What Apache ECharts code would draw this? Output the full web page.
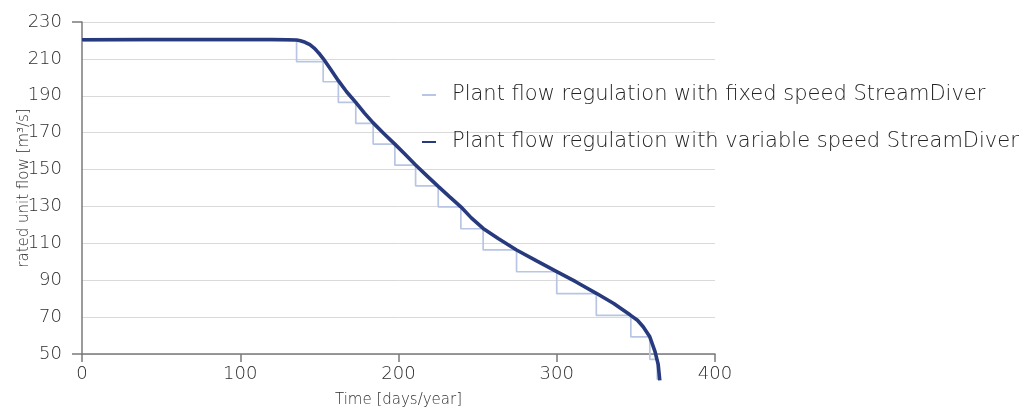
<!DOCTYPE html>
<html>
<head>
<meta charset="utf-8">
<title>rated unit flow</title>
<script src="https://cdn.jsdelivr.net/npm/echarts@6/dist/echarts.min.js"></script>
<style>
	html,body{margin:0;padding:0;background:#fff;}
	#chart{width:1030px;height:412px;}
</style>
</head>
<body>
<div id="chart"></div>
<script>
//series names
const nameFixed="Plant flow regulation with fixed speed StreamDiver";
const nameVariable="Plant flow regulation with variable speed StreamDiver";
//variable speed - smooth curve (day, m3/s)
const varDays=[0,40,80,120,130,135.6,138,141,144,146.5,148.2,150.3,152.4,157,162,167.2,173,178.5,184,191,197.7,204,210.8,218,225.1,232,239.4,246,253.5,263,274.6,287,300,312,325,336,346.5,351,354.6,358.8,362,364.1,365.1];
const varFlow=[220.4,220.5,220.5,220.5,220.4,220.2,219.8,219.0,217.7,216.0,214.5,212.5,210.2,204.5,198.2,192.2,186.4,180.6,175.3,169.3,163.8,158.4,152.5,146.6,140.9,135.5,129.8,123.8,118.1,112.6,106.4,100.6,94.7,89.2,82.9,77.4,71.1,68.3,64.8,59.3,51.6,44.4,35.7];
//fixed speed - staircase, each value holds until the next day
const fixedDays=[0,135.6,152.4,162,173,184,197.7,210.8,225.1,239.4,253.5,274.6,300,325,346.8,358.8,363.5];
const fixedFlow=[219.8,208.5,197.6,186.4,175,163.8,152.4,141.2,129.8,117.9,106.4,94.6,82.7,70.9,59.3,47.1,36];
//axis ticks [min, max, step]
const xTicks=[0,400,100];
const yTicks=[50,230,20];

const txtFont="DejaVu Sans";
const txtColor="#2e2e2e";
const axisColor="#7a7a7a";

function pairs(xs,ys){
	let out=[];
	for(let i=0;i<xs.length;i++){out.push([xs[i],ys[i]]);}
	return out;
}

let myChart=echarts.init(document.getElementById('chart'));
let legendText={fontFamily:txtFont,fontWeight:200,fontSize:21,lineHeight:24,color:'#222',padding:[0,0,0,11]};
let chartOption={
	animation:false,
	backgroundColor:'#fff',
	textStyle:{fontFamily:txtFont,fontWeight:200,color:txtColor},
	//fixed plot box, labels may sit outside it
	grid:{left:82,right:315,top:22,bottom:58,outerBoundsMode:'none',containLabel:false},
	legend:[
		{
			data:[nameFixed],
			left:390,top:81,
			padding:[2,10,2,32],
			backgroundColor:'#fff',
			icon:'rect',itemWidth:14,itemHeight:2,
			textStyle:legendText
		},
		{
			data:[nameVariable],
			left:390,top:128,
			padding:[2,10,2,32],
			icon:'rect',itemWidth:14,itemHeight:2,
			textStyle:legendText
		}
	],
	xAxis:{
		type:'value',
		min:xTicks[0],max:xTicks[1],interval:xTicks[2],
		name:'Time [days/year]',
		nameLocation:'middle',nameGap:39,nameMoveOverlap:false,
		nameTextStyle:{fontFamily:txtFont,fontWeight:200,fontSize:15,color:txtColor},
		axisLine:{show:true,lineStyle:{color:axisColor,width:1.5}},
		axisTick:{show:true,length:8,lineStyle:{color:axisColor,width:1.5}},
		axisLabel:{margin:11,fontFamily:txtFont,fontWeight:200,fontSize:18,color:txtColor},
		splitLine:{show:false}
	},
	yAxis:[
		{
			type:'value',
			min:yTicks[0],max:yTicks[1],interval:yTicks[2],
			name:'rated unit flow [m³/s]',
			nameLocation:'middle',nameGap:50,nameMoveOverlap:false,
			nameTextStyle:{fontFamily:txtFont,fontWeight:200,fontSize:15,color:txtColor},
			axisLine:{show:true,lineStyle:{color:axisColor,width:1.5}},
			axisTick:{show:false},
			axisLabel:{margin:20,fontFamily:txtFont,fontWeight:200,fontSize:18,color:txtColor},
			splitLine:{show:true,lineStyle:{color:'#d9d9d9',width:1}}
		},
		{
			//only the end ticks (50 and 230) on the left
			type:'value',
			min:yTicks[0],max:yTicks[1],interval:yTicks[1]-yTicks[0],
			position:'left',
			axisLine:{show:false},
			axisTick:{show:true,length:10,lineStyle:{color:axisColor,width:1.5}},
			axisLabel:{show:false},
			splitLine:{show:false}
		}
	],
	series:[
		{
			name:nameFixed,
			type:'line',
			step:'end',
			showSymbol:false,
			clip:false,
			data:pairs(fixedDays,fixedFlow),
			itemStyle:{color:'#b8c5e4'},
			lineStyle:{color:'#b8c5e4',width:1.7}
		},
		{
			name:nameVariable,
			type:'line',
			showSymbol:false,
			clip:false,
			data:pairs(varDays,varFlow),
			itemStyle:{color:'#283a7e'},
			lineStyle:{color:'#283a7e',width:3.6},
			z:3
		}
	]
};
myChart.setOption(chartOption);
</script>
</body>
</html>
